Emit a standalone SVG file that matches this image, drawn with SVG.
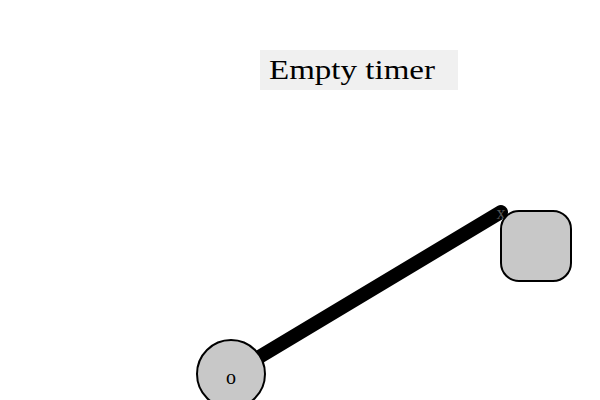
<svg xmlns="http://www.w3.org/2000/svg" width="600" height="400" viewBox="0 0 600 400">
<style>
.node{fill:#c8c8c8;stroke:#000;stroke-width:2}
.lbl{font-family:"Liberation Serif","DejaVu Serif",serif;fill:#000}
.edge{stroke:#000;stroke-width:14;stroke-linecap:round;fill:none}
</style>
<rect width="600" height="400" fill="#fff"/>
<g id="title">
<rect x="260" y="50" width="198" height="40" fill="#f0f0f0"/>
<text class="lbl" x="269" y="79" font-size="28" textLength="166" lengthAdjust="spacingAndGlyphs">Empty timer</text>
</g>
<g id="connectors">
<line class="edge" x1="231" y1="374" x2="501" y2="212"/>
<text x="501" y="219" font-family="Liberation Serif,serif" font-size="18" fill="#555" text-anchor="middle">x</text>
</g>
<g id="node-o">
<circle class="node" cx="231" cy="374" r="34"/>
<text class="lbl" x="231" y="384" font-size="20" text-anchor="middle">o</text>
</g>
<g id="node-box">
<rect class="node" x="501" y="211" width="70" height="70" rx="18"/>
</g>
</svg>
